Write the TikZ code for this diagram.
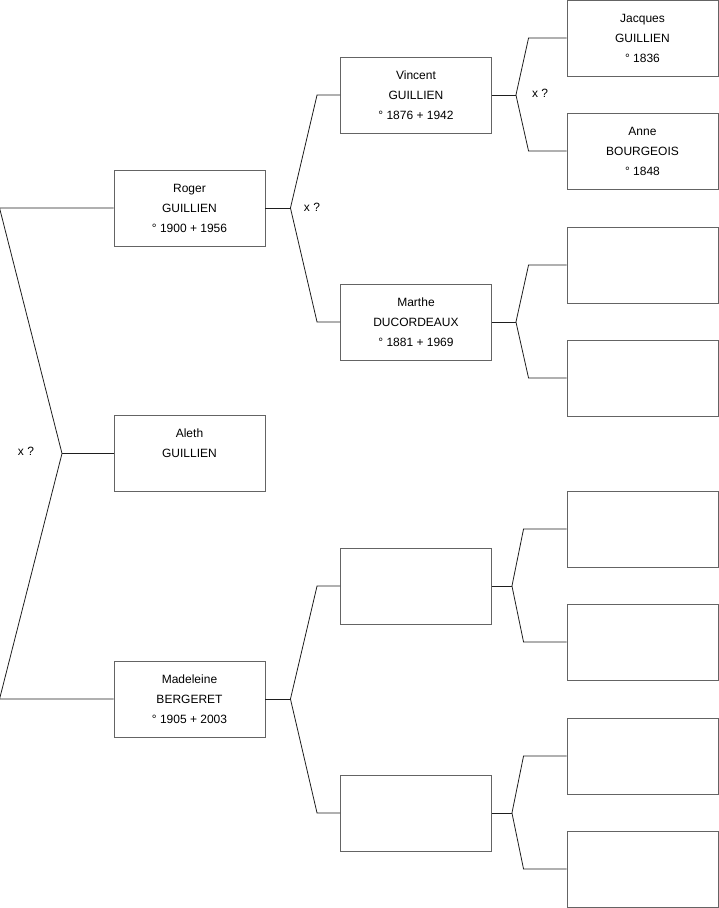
\documentclass[tikz,border=0pt]{standalone}
\usepackage{fontspec}
\setmainfont{Liberation Sans}
\usepackage{tikz}
\usetikzlibrary{positioning,calc}
\definecolor{box_gray}{RGB}{100, 100, 100}
\definecolor{link_dark}{RGB}{30, 30, 30}

\begin{document}
\begin{tikzpicture}[
    x=1pt, y=-1pt,
    font=\fontsize{12}{20}\selectfont,
    node distance=37pt and 76pt,
    % Styles
    person/.style={
        rectangle, draw=box_gray, fill=white, line width=0.9pt, align=center,
        minimum width=151pt, minimum height=76pt, inner sep=2pt
    },
    link/.style={draw=link_dark, line width=0.8pt},
    union_lbl/.style={text=black, inner sep=1pt}
]
\useasboundingbox (0,0) rectangle (719,908);

% 1. Generation 1 (subject and siblings)
\node[person] (roger) at (189.5,208) {Roger\\GUILLIEN\\° 1900 + 1956};
\node[person] (aleth) at (189.5,453.5) {Aleth\\GUILLIEN\\\mbox{}};
\node[person] (madeleine) at (189.5,699) {Madeleine\\BERGERET\\° 1905 + 2003};

% 2. Generation 2 (parents)
\node[person] (vincent) at (416,95) {Vincent\\GUILLIEN\\° 1876 + 1942};
\node[person] (marthe) at (416,322) {Marthe\\DUCORDEAUX\\° 1881 + 1969};
\node[person] (gpa) at (416,586) {};
\node[person] (gpb) at (416,813) {};

% 3. Generation 3 (grandparents)
\node[person] (jacques) at (642.5,38) {Jacques\\GUILLIEN\\° 1836};
\node[person] (anne) at (642.5,151) {Anne\\BOURGEOIS\\° 1848};
\node[person] (ggc) at (642.5,265) {};
\node[person] (ggd) at (642.5,378) {};
\node[person] (gge) at (642.5,529) {};
\node[person] (ggf) at (642.5,642) {};
\node[person] (ggg) at (642.5,756) {};
\node[person] (ggh) at (642.5,869) {};

% --- Junctions ---
\coordinate (j_sib) at (62,453.5);
\coordinate (j_roger) at ($(roger.east)+(25,0)$);
\coordinate (j_mad) at ($(madeleine.east)+(25,0)$);
\coordinate (j_vin) at ($(vincent.east)+(24,0)$);
\coordinate (j_mar) at ($(marthe.east)+(24,0)$);
\coordinate (j_gpa) at ($(gpa.east)+(20,0)$);
\coordinate (j_gpb) at ($(gpb.east)+(20,0)$);

% --- Connections ---
% Siblings bracket
\draw[link] (roger.west) -- ([xshift=-114pt]roger.west) -- (j_sib)
    -- ([xshift=-114pt]madeleine.west) -- (madeleine.west);
\draw[link] (j_sib) -- (aleth.west);
\node[union_lbl] (x_sib) at (26,451) {x ?};

% Parents of Roger
\draw[link] (roger.east) -- (j_roger);
\draw[link] (j_roger) -- ([xshift=-23pt]vincent.west) -- (vincent.west);
\draw[link] (j_roger) -- ([xshift=-23pt]marthe.west) -- (marthe.west);
\node[union_lbl] (x_roger) at (312,207) {x ?};

% Parents of Madeleine
\draw[link] (madeleine.east) -- (j_mad);
\draw[link] (j_mad) -- ([xshift=-23pt]gpa.west) -- (gpa.west);
\draw[link] (j_mad) -- ([xshift=-23pt]gpb.west) -- (gpb.west);

% Parents of Vincent
\draw[link] (vincent.east) -- (j_vin);
\draw[link] (j_vin) -- ([xshift=-38pt]jacques.west) -- (jacques.west);
\draw[link] (j_vin) -- ([xshift=-38pt]anne.west) -- (anne.west);
\node[union_lbl] (x_vin) at (540,93) {x ?};

% Parents of Marthe
\draw[link] (marthe.east) -- (j_mar);
\draw[link] (j_mar) -- ([xshift=-38pt]ggc.west) -- (ggc.west);
\draw[link] (j_mar) -- ([xshift=-38pt]ggd.west) -- (ggd.west);

% Empty branches
\draw[link] (gpa.east) -- (j_gpa);
\draw[link] (j_gpa) -- ([xshift=-43pt]gge.west) -- (gge.west);
\draw[link] (j_gpa) -- ([xshift=-43pt]ggf.west) -- (ggf.west);
\draw[link] (gpb.east) -- (j_gpb);
\draw[link] (j_gpb) -- ([xshift=-43pt]ggg.west) -- (ggg.west);
\draw[link] (j_gpb) -- ([xshift=-43pt]ggh.west) -- (ggh.west);

\end{tikzpicture}
\end{document}
